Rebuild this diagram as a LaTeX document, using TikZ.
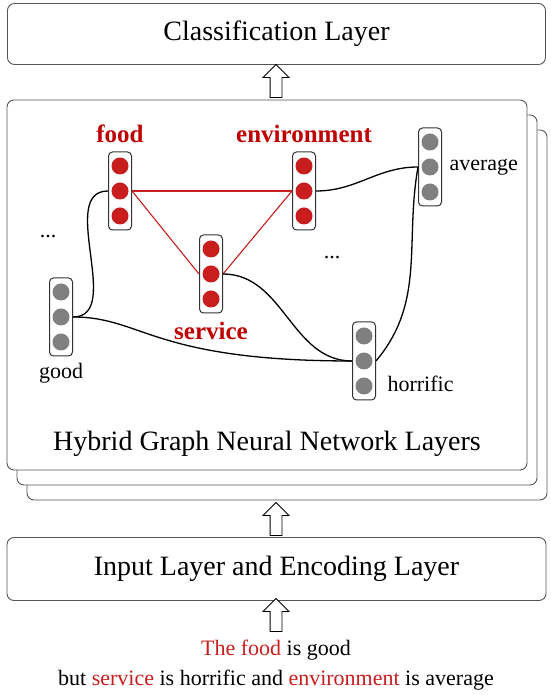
\documentclass[tikz,border=0pt]{standalone}
\usepackage{fontspec}
\setmainfont{Liberation Serif}
\usetikzlibrary{positioning,shapes.arrows}
\definecolor{aspect}{HTML}{C00000}
\definecolor{dotred}{HTML}{C81E1E}
\definecolor{dotgray}{HTML}{808080}
\definecolor{frame}{HTML}{555555}

\begin{document}
\begin{tikzpicture}[
    x=1pt, y=1pt,
    layer/.style={draw=frame, fill=white, rounded corners=7pt, line width=0.9pt, inner sep=0pt},
    layertext/.style={font=\fontsize{28}{32}\selectfont},
    uparrow/.style={single arrow, draw=black, fill=white, shape border rotate=90, minimum height=33pt, single arrow head extend=7pt, inner sep=5.5pt, line width=0.8pt},
    vec/.style={draw=black!80, rounded corners=4pt, line width=1pt, minimum width=23pt, minimum height=78pt, inner sep=0pt},
    reddot/.style={circle, fill=dotred, minimum size=17pt, inner sep=0pt},
    graydot/.style={circle, fill=dotgray, minimum size=17pt, inner sep=0pt},
    aspectlabel/.style={text=aspect, font=\fontsize{25}{28}\selectfont\bfseries},
    wordlabel/.style={font=\fontsize{22}{30}\selectfont},
    relation/.style={draw=dotred, line width=1.1pt},
    syntax/.style={draw=black, line width=1.3pt}
]
\useasboundingbox (0,0) rectangle (550,695);

% Classification layer
\node[layer, minimum width=538pt, minimum height=61pt] (cls) at (276.5,661) {};
\node[layertext] (clstext) at (cls) {Classification Layer};
\node[uparrow] (up1) at (276,611) {};

% Stacked graph layers
\node[layer, minimum width=520pt, minimum height=370pt] (hgnn3) at (287,380) {};
\node[layer, minimum width=520pt, minimum height=370pt] (hgnn2) at (277,395) {};
\node[layer, minimum width=520pt, minimum height=370pt] (hgnn) at (267,410) {};
\node[layertext] (hgnntext) at (267,251) {Hybrid Graph Neural Network Layers};

% Word vectors
\foreach \v/\s/\px/\py in {food/reddot/120/504, env/reddot/304/504, service/reddot/211/421,
                            good/graydot/61/378, average/graydot/430/528, horrific/graydot/364/334}{
  \node[vec] (\v) at (\px,\py) {};
  \foreach \i/\dy in {1/25,2/0,3/-25}
    \node[\s] (\v\i) at ([yshift=\dy pt]\v.center) {};
}

% Aspect and opinion words
\node[aspectlabel, above=5pt of food] (foodlbl) {food};
\node[aspectlabel, above=5pt of env] (envlbl) {environment};
\node[aspectlabel, below=5pt of service] (servicelbl) {service};
\node[wordlabel, below=3pt of good] (goodlbl) {good};
\node[wordlabel, right=4pt of average] (averagelbl) {average};
\node[wordlabel, anchor=west] (horrificlbl) at (384,311) {horrific};
\node[wordlabel] (dotsleft) at (48,458) {...};
\node[wordlabel] (dotsright) at (332,437) {...};

% Aspect relations
\draw[relation] (food.east) -- (env.west);
\draw[relation] (food.east) -- (service.west);
\draw[relation] (service.east) -- (env.west);

% Syntactic links
\draw[syntax] (food.west) to[out=180, in=0] (good.east);
\draw[syntax] (good.east) .. controls +(70,0) and +(-200,0) .. (horrific.west);
\draw[syntax] (service.east) to[out=0, in=180] (horrific.west);
\draw[syntax] (env.east) to[out=0, in=180] (average.west);
\draw[syntax] (horrific.east) to[out=50, in=-100] (average.west);

% Input layer
\node[uparrow] (up2) at (276,173) {};
\node[layer, minimum width=539pt, minimum height=63pt] (input) at (276.5,126) {};
\node[layertext] (inputtext) at (input) {Input Layer and Encoding Layer};
\node[uparrow] (up3) at (276,77) {};

% Sentence
\node[wordlabel, align=center] (sentence) at (276,30) {{\color{dotred}The food} is good\\
  but {\color{dotred}service} is horrific and {\color{dotred}environment} is average};

\end{tikzpicture}
\end{document}
